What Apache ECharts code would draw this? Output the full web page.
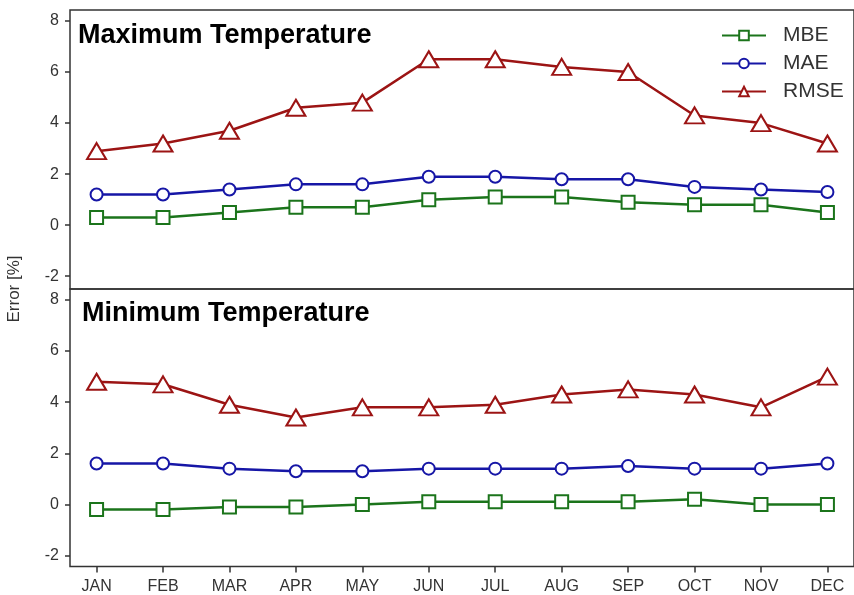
<!DOCTYPE html>
<html>
<head>
<meta charset="utf-8">
<script src="https://cdn.jsdelivr.net/npm/echarts@6/dist/echarts.min.js"></script>
<style>
html,body{margin:0;padding:0;background:#fff;}
#chart{width:854px;height:595px;}
</style>
</head>
<body>
<div id="chart"></div>
<script>
var months = ['JAN','FEB','MAR','APR','MAY','JUN','JUL','AUG','SEP','OCT','NOV','DEC'];
var yTicks = [-2, 0, 2, 4, 6, 8];
var monthIdx = [0,1,2,3,4,5,6,7,8,9,10,11];

// Maximum Temperature
var maxMBE  = [0.3, 0.3, 0.5, 0.7, 0.7, 1.0, 1.1, 1.1, 0.9, 0.8, 0.8, 0.5];
var maxMAE  = [1.2, 1.2, 1.4, 1.6, 1.6, 1.9, 1.9, 1.8, 1.8, 1.5, 1.4, 1.3];
var maxRMSE = [2.9, 3.2, 3.7, 4.6, 4.8, 6.5, 6.5, 6.2, 6.0, 4.3, 4.0, 3.2];

// Minimum Temperature
var minMBE  = [-0.2, -0.2, -0.1, -0.1, 0.0, 0.1, 0.1, 0.1, 0.1, 0.2, 0.0, 0.0];
var minMAE  = [1.6, 1.6, 1.4, 1.3, 1.3, 1.4, 1.4, 1.4, 1.5, 1.4, 1.4, 1.6];
var minRMSE = [4.8, 4.7, 3.9, 3.4, 3.8, 3.8, 3.9, 4.3, 4.5, 4.3, 3.8, 5.0];

var COLORS = { MBE: '#1b741b', MAE: '#1616a6', RMSE: '#9c1414' };
var SYMBOLS = { MBE: ['emptyRect', 13], MAE: ['emptyCircle', 12], RMSE: ['emptyTriangle', [19, 16]] };

function pairs(vals) {
  return vals.map(function (v, i) { return [monthIdx[i], v]; });
}

function mkSeries(name, vals, gi) {
  return {
    name: name,
    type: 'line',
    xAxisIndex: gi,
    yAxisIndex: gi,
    data: pairs(vals),
    symbol: SYMBOLS[name][0],
    symbolSize: SYMBOLS[name][1],
    showAllSymbol: true,
    lineStyle: { color: COLORS[name], width: 2.5 },
    itemStyle: { color: COLORS[name], borderColor: COLORS[name], borderWidth: 2.2 },
    emphasis: { disabled: true },
    animation: false,
    z: 3
  };
}

function yAxisDef(gi, min, max) {
  return {
    type: 'value', gridIndex: gi, min: min, max: max, position: 'left',
    axisLine: { show: false, onZero: false },
    axisTick: { show: true, customValues: yTicks, length: 5, lineStyle: { color: '#333', width: 1.5 } },
    axisLabel: { customValues: yTicks, fontSize: 16, color: '#333', margin: 11, fontFamily: 'Liberation Sans, Arial, sans-serif' },
    splitLine: { show: false }
  };
}

function xAxisDef(gi, showLabels) {
  return {
    type: 'value', gridIndex: gi, min: -0.4, max: 11.4, position: 'bottom',
    axisLine: { show: false, onZero: false },
    axisTick: { show: showLabels, customValues: monthIdx, length: 6, lineStyle: { color: '#333', width: 1.5 } },
    axisLabel: {
      show: showLabels, customValues: monthIdx, fontSize: 16, color: '#333', margin: 12,
      fontFamily: 'Liberation Sans, Arial, sans-serif',
      formatter: function (v) { return months[Math.round(v)]; }
    },
    splitLine: { show: false }
  };
}

var chart = echarts.init(document.getElementById('chart'), null, { renderer: 'canvas' });
chart.setOption({
  backgroundColor: '#ffffff',
  animation: false,
  grid: [
    { left: 70, right: -2, top: 10, height: 279, show: true, borderColor: '#333', borderWidth: 1.5, backgroundColor: 'transparent' },
    { left: 70, right: -2, top: 289, height: 277.5, show: true, borderColor: '#333', borderWidth: 1.5, backgroundColor: 'transparent' }
  ],
  xAxis: [xAxisDef(0, false), xAxisDef(1, true)],
  yAxis: [yAxisDef(0, -2.5, 8.43), yAxisDef(1, -2.43, 8.43)],
  legend: {
    orient: 'vertical',
    left: 716,
    top: 20,
    itemWidth: 44,
    itemHeight: 12,
    itemGap: 7,
    data: ['MBE', 'MAE', 'RMSE'],
    textStyle: { fontSize: 21, lineHeight: 21, color: '#333', fontFamily: 'Liberation Sans, Arial, sans-serif', padding: [0, 0, 0, 12] },
    selectedMode: false
  },
  graphic: [
    { type: 'text', left: 78, top: 22, style: { text: 'Maximum Temperature', font: 'bold 27px "Liberation Sans", Arial, sans-serif', fill: '#000' } },
    { type: 'text', left: 82, top: 300, style: { text: 'Minimum Temperature', font: 'bold 27px "Liberation Sans", Arial, sans-serif', fill: '#000' } },
    { type: 'text', x: 14, y: 289, rotation: Math.PI / 2, style: { text: 'Error [%]', font: '17px "Liberation Sans", Arial, sans-serif', fill: '#333', align: 'center', verticalAlign: 'middle' } }
  ],
  series: [
    mkSeries('MBE', maxMBE, 0),
    mkSeries('MAE', maxMAE, 0),
    mkSeries('RMSE', maxRMSE, 0),
    mkSeries('MBE', minMBE, 1),
    mkSeries('MAE', minMAE, 1),
    mkSeries('RMSE', minRMSE, 1)
  ]
});
</script>
</body>
</html>
